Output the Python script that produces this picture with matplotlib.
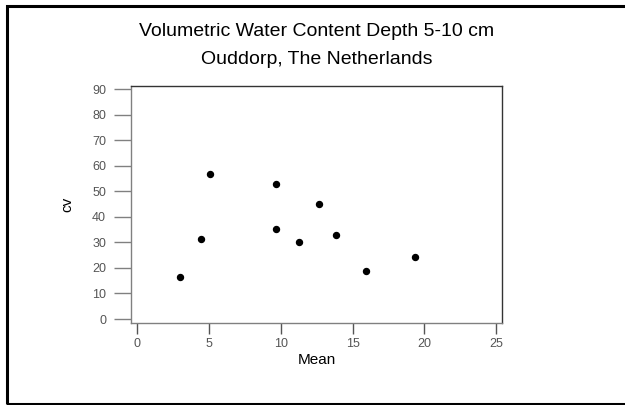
import matplotlib.pyplot as plt
from matplotlib.patches import Rectangle

plt.rcParams['font.family'] = ['Liberation Sans', 'DejaVu Sans']

mean = [3.0, 4.45, 5.05, 9.65, 9.65, 11.25, 12.65, 13.85, 15.95, 19.35]
cv = [16.4, 31.3, 57.0, 52.8, 35.4, 30.1, 45.1, 33.1, 18.8, 24.4]
xticks = [0, 5, 10, 15, 20, 25]
yticks = [0, 10, 20, 30, 40, 50, 60, 70, 80, 90]

fig = plt.figure(figsize=(6.25, 4.05), dpi=100)
ax = fig.add_axes([0.2096, 0.2032, 0.5936, 0.5845])

ax.plot(mean, cv, 'o', color='black', markersize=4.3, linestyle='none')

ax.set_xlim(-0.45, 25.42)
ax.set_ylim(-1.45, 91.3)
ax.set_xticks(xticks)
ax.set_yticks(yticks)

for s in ['left', 'bottom']:
    ax.spines[s].set_color('#808080')
for s in ['top', 'right']:
    ax.spines[s].set_color('#333333')
for s in ax.spines.values():
    s.set_linewidth(1.0)

ax.tick_params(axis='y', length=12, width=1, color='#808080', labelcolor='#555555',
               labelsize=9, pad=6)
ax.tick_params(axis='x', length=8, width=1, color='#555555', labelcolor='#555555',
               labelsize=9, pad=3)

ax.set_xlabel('Mean', fontsize=11, labelpad=2)
ax.set_ylabel('cv', fontsize=11, labelpad=13)

fig.text(0.5064, 1 - 31 / 405, 'Volumetric Water Content Depth 5-10 cm',
         ha='center', va='center', fontsize=14)
fig.text(0.5064, 1 - 60 / 405, 'Ouddorp, The Netherlands',
         ha='center', va='center', fontsize=14)

# outer frame
fig.patches.append(Rectangle((6.5 / 625, 1.5 / 405), 700 / 625, 398 / 405,
                             transform=fig.transFigure, fill=False,
                             edgecolor='black', linewidth=2.2))

fig.savefig('out.png', dpi=100)
